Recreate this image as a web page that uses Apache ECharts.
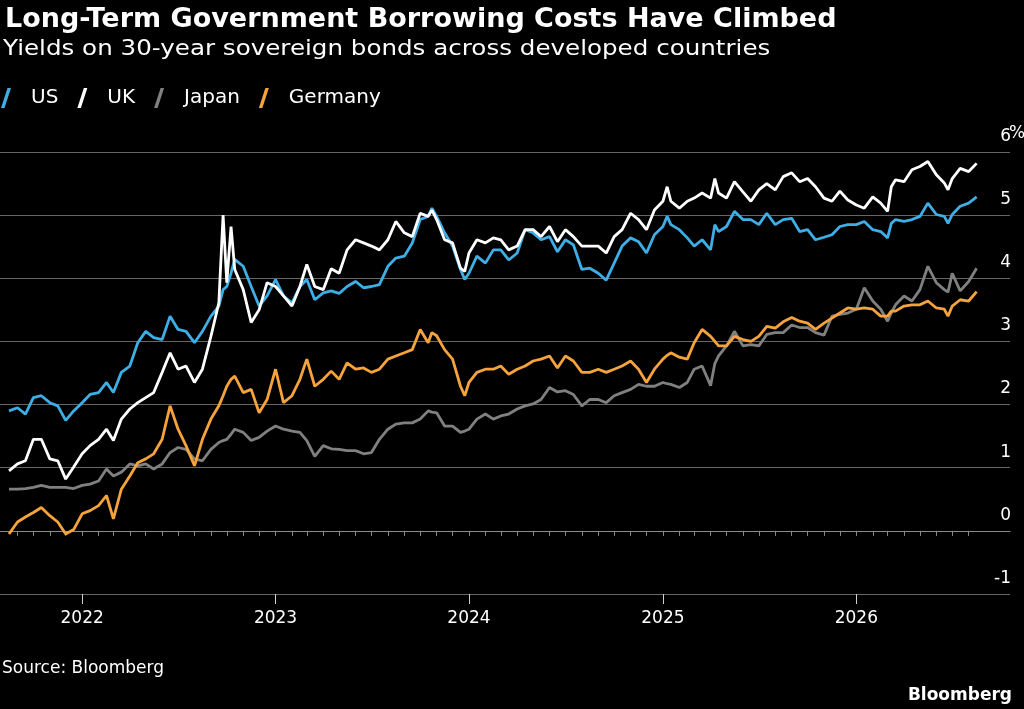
<!DOCTYPE html>
<html>
<head>
<meta charset="utf-8">
<script src="https://cdn.jsdelivr.net/npm/echarts@6/dist/echarts.min.js"></script>
<style>
html, body { margin: 0; padding: 0; background: #000; }
#chart { width: 1024px; height: 709px; }
</style>
</head>
<body>
<div id="chart"></div>
<script>
// semi-monthly readings, with a few extra days where the lines spike
var dates = [
  '2021-08-16','2021-09-01','2021-09-16','2021-10-01','2021-10-16','2021-11-01','2021-11-16','2021-12-01','2021-12-16',
  '2022-01-01','2022-01-16','2022-02-01','2022-02-16','2022-03-01','2022-03-16','2022-04-01','2022-04-16','2022-05-01','2022-05-16',
  '2022-06-01','2022-06-16','2022-07-01','2022-07-16','2022-08-01','2022-08-16','2022-09-01','2022-09-16','2022-09-24','2022-10-01',
  '2022-10-09','2022-10-16','2022-11-01','2022-11-16','2022-12-01','2022-12-16',
  '2023-01-01','2023-01-16','2023-02-01','2023-02-16','2023-03-01','2023-03-16','2023-04-01','2023-04-16','2023-05-01','2023-05-16',
  '2023-06-01','2023-06-16','2023-07-01','2023-07-16','2023-08-01','2023-08-16','2023-09-01','2023-09-16','2023-10-01','2023-10-16',
  '2023-10-23','2023-11-01','2023-11-16','2023-12-01','2023-12-16','2023-12-24',
  '2024-01-01','2024-01-16','2024-02-01','2024-02-16','2024-03-01','2024-03-16','2024-04-01','2024-04-16','2024-05-01','2024-05-16',
  '2024-06-01','2024-06-16','2024-07-01','2024-07-16','2024-08-01','2024-08-16','2024-09-01','2024-09-16','2024-10-01','2024-10-16',
  '2024-11-01','2024-11-16','2024-12-01','2024-12-16',
  '2025-01-01','2025-01-09','2025-01-16','2025-02-01','2025-02-16','2025-03-01','2025-03-16','2025-04-01','2025-04-09','2025-04-16',
  '2025-05-01','2025-05-16','2025-06-01','2025-06-16','2025-07-01','2025-07-16','2025-08-01','2025-08-16','2025-09-01','2025-09-16',
  '2025-10-01','2025-10-16','2025-11-01','2025-11-16','2025-12-01','2025-12-16',
  '2026-01-01','2026-01-16','2026-02-01','2026-02-16','2026-03-01','2026-03-08','2026-03-16','2026-04-01','2026-04-16','2026-05-01',
  '2026-05-16','2026-06-01','2026-06-16','2026-06-23','2026-07-01','2026-07-16','2026-08-01','2026-08-16'
];

var us = [
  1.90,1.95,1.85,2.11,2.14,2.03,1.98,1.75,1.90,
  2.03,2.16,2.19,2.35,2.19,2.51,2.61,2.98,3.16,3.06,
  3.03,3.40,3.19,3.16,2.98,3.16,3.40,3.56,3.82,3.87,
  4.08,4.30,4.19,3.87,3.56,3.72,
  3.98,3.72,3.61,3.87,3.98,3.66,3.77,3.80,3.76,3.87,
  3.95,3.85,3.87,3.90,4.19,4.32,4.35,4.56,4.93,4.98,
  5.11,4.98,4.72,4.51,4.14,3.98,
  4.08,4.35,4.24,4.45,4.45,4.29,4.40,4.77,4.72,4.61,
  4.66,4.42,4.61,4.53,4.14,4.16,4.08,3.97,4.24,4.51,
  4.64,4.58,4.40,4.69,
  4.82,4.98,4.85,4.77,4.64,4.51,4.61,4.45,4.85,4.74,
  4.82,5.06,4.93,4.93,4.85,5.03,4.85,4.93,4.95,4.74,
  4.77,4.61,4.65,4.69,4.82,4.85,
  4.85,4.90,4.77,4.74,4.64,4.87,4.93,4.90,4.93,4.98,
  5.19,5.01,4.98,4.87,5.01,5.14,5.19,5.29
];

var uk = [
  0.95,1.06,1.11,1.45,1.45,1.14,1.11,0.82,1.01,
  1.22,1.35,1.45,1.61,1.43,1.77,1.93,2.03,2.11,2.19,
  2.51,2.82,2.56,2.61,2.35,2.56,3.08,3.61,5.00,3.93,
  4.82,4.14,3.82,3.30,3.50,3.93,
  3.87,3.72,3.56,3.87,4.22,3.87,3.82,4.15,4.08,4.45,
  4.61,4.56,4.51,4.45,4.61,4.90,4.72,4.66,5.03,4.98,
  5.08,4.93,4.61,4.56,4.16,4.11,
  4.40,4.61,4.56,4.64,4.61,4.45,4.51,4.77,4.77,4.66,
  4.82,4.58,4.77,4.66,4.51,4.51,4.51,4.40,4.66,4.77,
  5.03,4.93,4.77,5.08,
  5.22,5.45,5.22,5.11,5.22,5.27,5.35,5.27,5.58,5.35,
  5.27,5.53,5.37,5.22,5.40,5.50,5.40,5.61,5.67,5.53,
  5.58,5.45,5.27,5.22,5.38,5.24,
  5.16,5.11,5.29,5.19,5.06,5.45,5.56,5.53,5.72,5.77,
  5.85,5.64,5.51,5.40,5.58,5.74,5.69,5.82
];

var japan = [
  0.66,0.66,0.67,0.69,0.72,0.69,0.69,0.69,0.67,
  0.72,0.74,0.79,0.98,0.87,0.93,1.06,1.03,1.06,0.98,
  1.06,1.24,1.32,1.29,1.14,1.11,1.29,1.40,1.43,1.45,
  1.53,1.61,1.56,1.43,1.48,1.58,
  1.66,1.61,1.58,1.56,1.43,1.18,1.35,1.30,1.29,1.27,
  1.27,1.22,1.24,1.45,1.61,1.69,1.71,1.71,1.77,1.90,
  1.88,1.87,1.66,1.66,1.56,1.58,
  1.61,1.77,1.85,1.77,1.82,1.85,1.93,1.98,2.01,2.08,
  2.27,2.20,2.22,2.16,1.98,2.08,2.08,2.03,2.14,2.19,
  2.24,2.32,2.29,2.29,
  2.35,2.33,2.32,2.27,2.35,2.56,2.61,2.30,2.65,2.77,
  2.93,3.16,2.93,2.95,2.93,3.11,3.14,3.14,3.26,3.22,
  3.22,3.14,3.10,3.40,3.43,3.45,
  3.51,3.85,3.64,3.51,3.32,3.45,3.58,3.72,3.64,3.82,
  4.19,3.93,3.82,3.78,4.08,3.80,3.95,4.16
];

var germany = [
  -0.05,0.14,0.22,0.29,0.37,0.24,0.14,-0.05,0.02,
  0.27,0.32,0.40,0.56,0.19,0.66,0.87,1.08,1.14,1.22,
  1.45,1.98,1.61,1.35,1.03,1.45,1.77,1.98,2.14,2.29,
  2.40,2.45,2.19,2.24,1.87,2.08,
  2.56,2.03,2.14,2.40,2.72,2.29,2.40,2.53,2.40,2.66,
  2.56,2.58,2.51,2.56,2.72,2.77,2.82,2.87,3.19,2.98,
  3.14,3.09,2.87,2.72,2.29,2.14,
  2.35,2.51,2.56,2.56,2.61,2.48,2.56,2.61,2.69,2.72,
  2.77,2.58,2.77,2.69,2.51,2.51,2.56,2.51,2.56,2.61,
  2.69,2.56,2.35,2.56,
  2.72,2.78,2.82,2.75,2.72,2.98,3.19,3.08,3.00,2.93,
  2.93,3.08,3.03,3.00,3.08,3.24,3.21,3.31,3.38,3.32,
  3.29,3.19,3.29,3.37,3.45,3.53,
  3.51,3.53,3.51,3.40,3.40,3.48,3.48,3.56,3.58,3.58,
  3.64,3.53,3.51,3.40,3.56,3.66,3.64,3.79
];

var names = ['US', 'UK', 'Japan', 'Germany'];
var colors = ['#3eaee6', '#ffffff', '#808080', '#f6a33c'];
var years = [2022, 2023, 2024, 2025, 2026];

function ts(s) {
  var p = s.split('-');
  return +new Date(+p[0], +p[1] - 1, +p[2]);
}

var yearTicks = years.map(function (y) { return +new Date(y, 0, 1); });
var monthTicks = [];
for (var m = 8; m <= 8 + 59; m++) {
  monthTicks.push(+new Date(2021, m, 1));
}

function pairs(vals) {
  return dates.map(function (d, i) { return [ts(d), vals[i]]; });
}

var font = 'DejaVu Sans';
var xMin = ts('2021-07-30');
var xMax = ts('2026-10-18');

var chart = echarts.init(document.getElementById('chart'));
chart.setOption({
  backgroundColor: '#000',
  animation: false,
  color: colors,
  title: [{
    text: 'Long-Term Government Borrowing Costs Have Climbed',
    left: 0, top: 1,
    textStyle: { color: '#fff', fontFamily: font, fontWeight: 'bold', fontSize: 27 }
  }, {
    text: 'Source: Bloomberg',
    left: -3, top: 655,
    textStyle: { color: '#fff', fontFamily: font, fontWeight: 'normal', fontSize: 17 }
  }, {
    text: 'Bloomberg',
    right: 7, top: 682,
    textStyle: { color: '#fff', fontFamily: font, fontWeight: 'bold', fontSize: 17 }
  }],
  legend: {
    left: 1, top: 88, padding: 0,
    itemWidth: 10, itemHeight: 21, itemGap: 19,
    icon: 'path://M0,16 L2.8,16 L8,0 L5.2,0 Z',
    textStyle: { color: '#fff', fontFamily: font, fontSize: 20, padding: [0, 0, 0, 15] },
    data: names
  },
  grid: { left: 0, right: 14, top: 152, bottom: 115 },
  xAxis: [{
    type: 'value', min: xMin, max: xMax,
    axisLine: { show: true, lineStyle: { color: '#8a8a8a', width: 1 } },
    axisTick: { show: true, customValues: monthTicks, length: 5, lineStyle: { color: '#8a8a8a' } },
    axisLabel: { show: false },
    splitLine: { show: false }
  }, {
    type: 'value', min: xMin, max: xMax, position: 'bottom',
    axisLine: { show: false },
    axisTick: { show: true, customValues: yearTicks, length: 10, lineStyle: { color: '#cfcfcf' } },
    axisLabel: {
      show: true, customValues: yearTicks, margin: 16,
      color: '#fff', fontFamily: font, fontSize: 17,
      formatter: function (v) { return String(new Date(v).getFullYear()); }
    },
    splitLine: { show: false }
  }],
  yAxis: {
    type: 'value', position: 'right',
    min: -1, max: 6, interval: 1,
    axisLine: { show: false },
    axisTick: { show: false },
    axisLabel: {
      color: '#fff', fontFamily: font, fontSize: 17,
      align: 'right', verticalAlign: 'bottom', margin: 1,
      padding: [0, 0, 7, 0]
    },
    splitLine: {
      show: true,
      lineStyle: {
        width: 1,
        color: ['#666', '#e6e6e6', '#666', '#666', '#666', '#666', '#666', '#666']
      }
    }
  },
  graphic: [{
    // subtitle: the reference face is wider than DejaVu, so stretch it sideways
    type: 'text', x: 3, y: 39, scaleX: 1.17,
    style: {
      text: 'Yields on 30-year sovereign bonds across developed countries',
      fill: '#fff', font: '21px DejaVu Sans', verticalAlign: 'top'
    }
  }, {
    type: 'text', left: 1009, top: 125,
    style: { text: '%', fill: '#fff', font: '17px DejaVu Sans' }
  }],
  series: names.map(function (n, i) {
    var vals = [us, uk, japan, germany][i];
    return {
      name: n, type: 'line', data: pairs(vals),
      showSymbol: false, symbol: 'none',
      lineStyle: { width: 2.8, color: colors[i] },
      itemStyle: { color: colors[i] },
      xAxisIndex: 0
    };
  })
});
</script>
</body>
</html>
